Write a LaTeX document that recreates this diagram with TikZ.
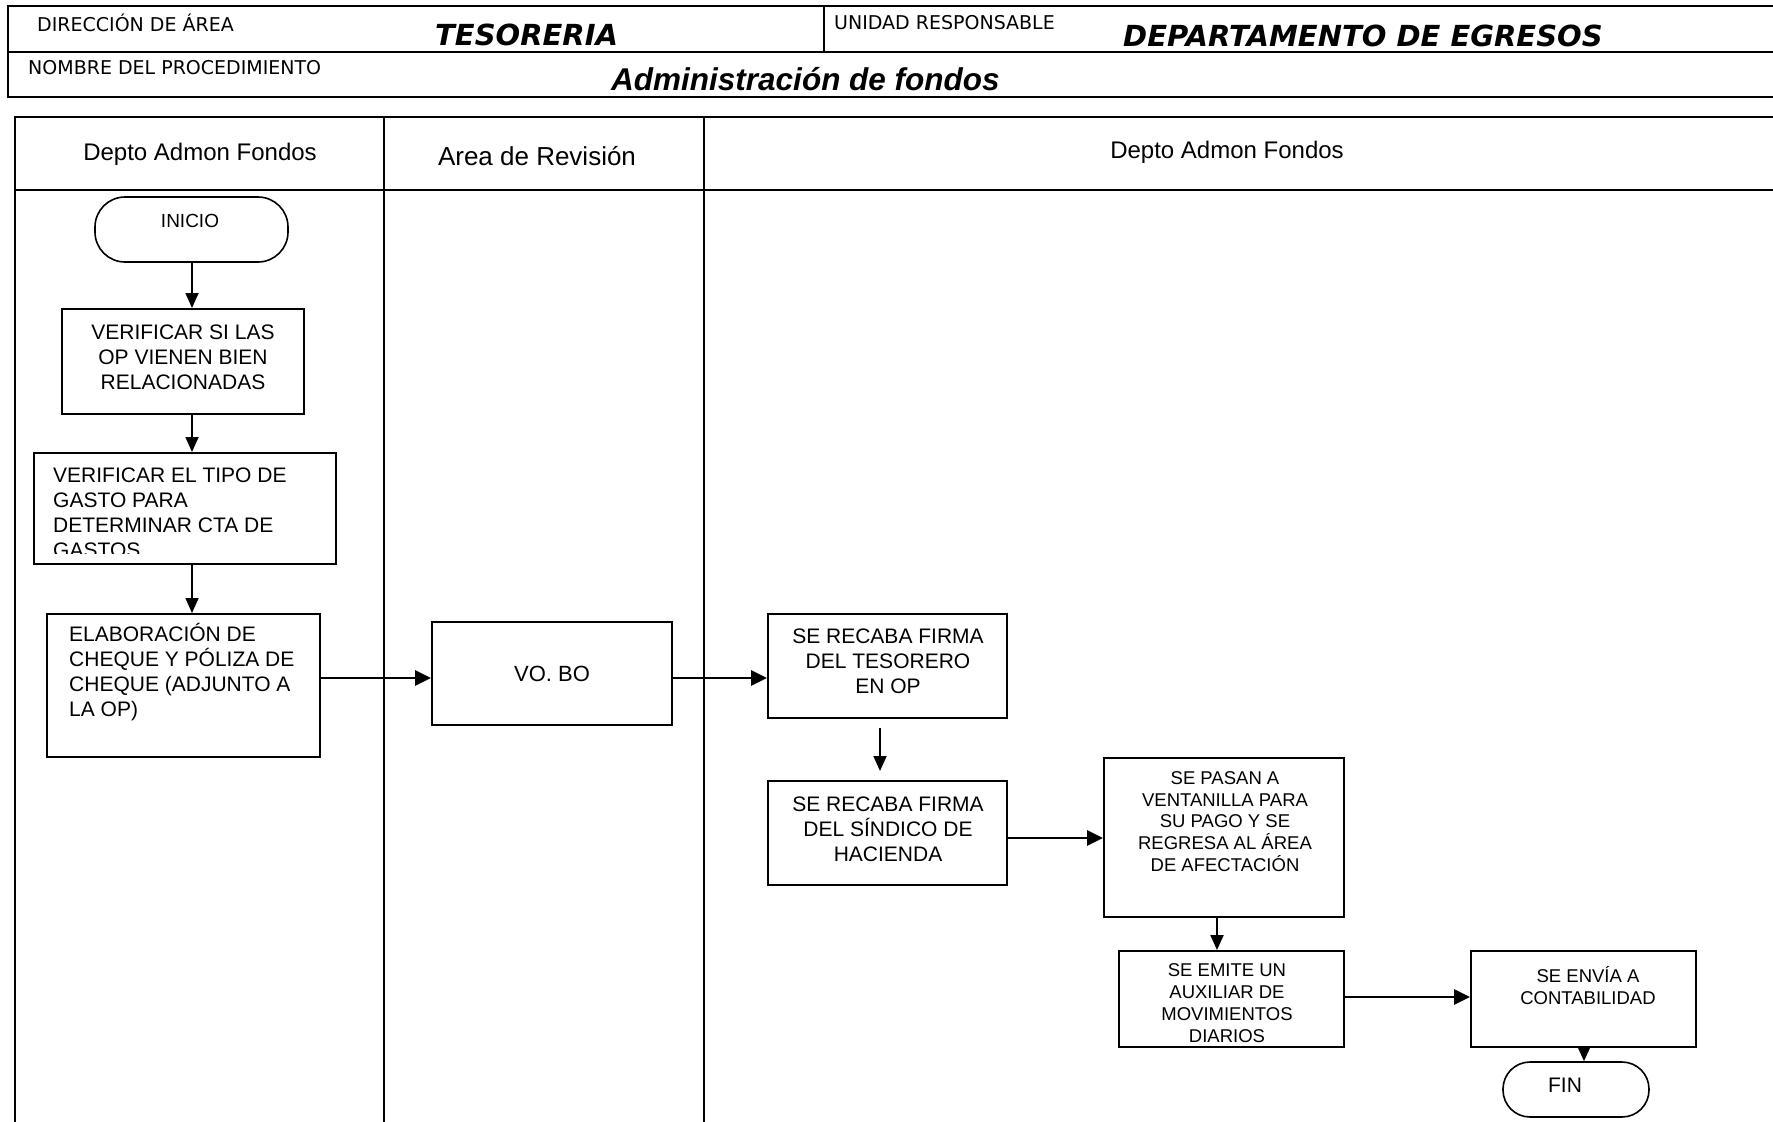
\documentclass[tikz,border=0pt]{standalone}
\usepackage{fontspec}
\setmainfont{Liberation Sans}
\newfontfamily\hdrfont{DejaVu Sans}
\usetikzlibrary{arrows.meta,calc}
\begin{document}
\begin{tikzpicture}[x=1bp,y=-1bp,
  frame/.style={line width=2.5bp},
  lane/.style={line width=2bp},
  box/.style={draw,line width=2bp,inner sep=0pt},
  term/.style={draw,line width=1.6bp,inner sep=0pt,rounded corners=30bp},
  arr/.style={line width=2.8bp,-{Triangle[length=16bp,width=15bp]}},
  varr/.style={line width=1.8bp,-{Triangle[length=15bp,width=13bp]}},
  txt/.style={inner sep=0pt,align=center,font=\fontsize{21bp}{25bp}\selectfont},
  txtl/.style={inner sep=0pt,align=left,anchor=west,font=\fontsize{21bp}{25bp}\selectfont},
  txts/.style={inner sep=0pt,align=center,font=\fontsize{18.5bp}{21.8bp}\selectfont},
  hsmall/.style={inner sep=0pt,anchor=west,font=\hdrfont\fontsize{19bp}{22bp}\selectfont},
  hbig/.style={inner sep=0pt,anchor=west,font=\hdrfont\bfseries\itshape\fontsize{29bp}{34bp}\selectfont},
  lanehd/.style={inner sep=0pt,font=\fontsize{24bp}{28bp}\selectfont}]
\useasboundingbox[fill=white] (0,0) rectangle (1773,1121);
% header
\draw[frame] (1773,6) -- (8,6) -- (8,97) -- (1773,97);
\draw[frame] (8,52) -- (1773,52);
\draw[frame] (824,6) -- (824,52);
\node[hsmall] (h1) at (37,23) {DIRECCIÓN DE ÁREA};
\node[hbig] (h2) at (435,35) {TESORERIA};
\node[hsmall] (h3) at (834,23) {UNIDAD RESPONSABLE};
\node[hbig] (h4) at (1123,36) {DEPARTAMENTO DE EGRESOS};
\node[hsmall] (h5) at (28,68) {NOMBRE DEL PROCEDIMIENTO};
\node[inner sep=0pt,anchor=west,font=\bfseries\itshape\fontsize{31.5bp}{36bp}\selectfont] (h6) at (611,79) {Administración de fondos};
% lanes
\draw[lane] (15,1125) -- (15,117) -- (1773,117);
\draw[lane] (15,190) -- (1773,190);
\draw[lane] (384,117) -- (384,1125);
\draw[lane] (704,117) -- (704,1125);
\node[lanehd] (l1) at (200,154) {Depto Admon Fondos};
\node[lanehd,font=\fontsize{26bp}{30bp}\selectfont] (l2) at (537,156) {Area de Revisión};
\node[lanehd] (l3) at (1227,152) {Depto Admon Fondos};
% coordinates for connector lines
\coordinate (xa) at (192,0);
\coordinate (xb) at (880,0);
\coordinate (xc) at (1217,0);
\coordinate (xd) at (1584,0);
\coordinate (ya) at (0,678);
\coordinate (yb) at (0,838);
\coordinate (yc) at (0,997);
% shapes
\node[term,minimum width=193bp,minimum height=65bp] (ini) at (191.5,229.5) {};
\node[box,minimum width=242bp,minimum height=105bp] (b1) at (183,361.5) {};
\node[box,minimum width=302bp,minimum height=111bp] (b2) at (185,508.5) {};
\node[box,minimum width=273bp,minimum height=143bp] (b3) at (183.5,685.5) {};
\node[box,minimum width=240bp,minimum height=103bp] (vob) at (552,673.5) {};
\node[box,minimum width=239bp,minimum height=104bp] (tes) at (887.5,666) {};
\node[box,minimum width=239bp,minimum height=104bp] (sin) at (887.5,833) {};
\node[box,minimum width=240bp,minimum height=159bp] (ven) at (1224,837.5) {};
\node[box,minimum width=225bp,minimum height=96bp] (emi) at (1231.5,999) {};
\node[box,minimum width=225bp,minimum height=96bp] (env) at (1583.5,999) {};
\node[term,rounded corners=27bp,minimum width=146bp,minimum height=55bp] (fin) at (1576,1089.5) {};
% texts
\node[txts,font=\fontsize{19bp}{22bp}\selectfont] (init) at (190,221) {INICIO};
\node[txt] (b1t) at (183,357) {VERIFICAR SI LAS\\OP VIENEN BIEN\\RELACIONADAS};
\begin{scope}
\clip (34,453) rectangle (336,553);
\node[txtl] (b2t) at (53,513) {VERIFICAR EL TIPO DE\\GASTO PARA\\DETERMINAR CTA DE\\GASTOS};
\end{scope}
\node[txtl] (b3t) at (69,672.5) {ELABORACIÓN DE\\CHEQUE Y PÓLIZA DE\\CHEQUE (ADJUNTO A\\LA OP)};
\node[txt,font=\fontsize{22bp}{26bp}\selectfont] (vobt) at (552,674) {VO. BO};
\node[txt] (test) at (888,661.5) {SE RECABA FIRMA\\DEL TESORERO\\EN OP};
\node[txt] (sint) at (888,829) {SE RECABA FIRMA\\DEL SÍNDICO DE\\HACIENDA};
\node[txts] (vent) at (1225,821.5) {SE PASAN A\\VENTANILLA PARA\\SU PAGO Y SE\\REGRESA AL ÁREA\\DE AFECTACIÓN};
\node[txts] (emit) at (1227,1003) {SE EMITE UN\\AUXILIAR DE\\MOVIMIENTOS\\DIARIOS};
\node[txts] (envt) at (1588,985.5) {SE ENVÍA A\\CONTABILIDAD};
\node[txt,font=\fontsize{21bp}{25bp}\selectfont] (fint) at (1565,1085) {FIN};
% connectors
\draw[varr] (ini.south -| xa) -- (b1.north -| xa);
\draw[varr] (b1.south -| xa) -- (b2.north -| xa);
\draw[varr] (b2.south -| xa) -- (b3.north -| xa);
\draw[arr] (b3.east |- ya) -- (vob.west |- ya);
\draw[arr] (vob.east |- ya) -- (tes.west |- ya);
\draw[varr] ($(tes.south -| xb)+(0,9)$) -- ($(sin.north -| xb)+(0,-9)$);
\draw[arr] (sin.east |- yb) -- (ven.west |- yb);
\draw[varr,line width=2.2bp] (ven.south -| xc) -- (emi.north -| xc);
\draw[arr] (emi.east |- yc) -- (env.west |- yc);
\draw[varr,line width=2.2bp] (env.south -| xd) -- (fin.north -| xd);
\end{tikzpicture}
\end{document}
